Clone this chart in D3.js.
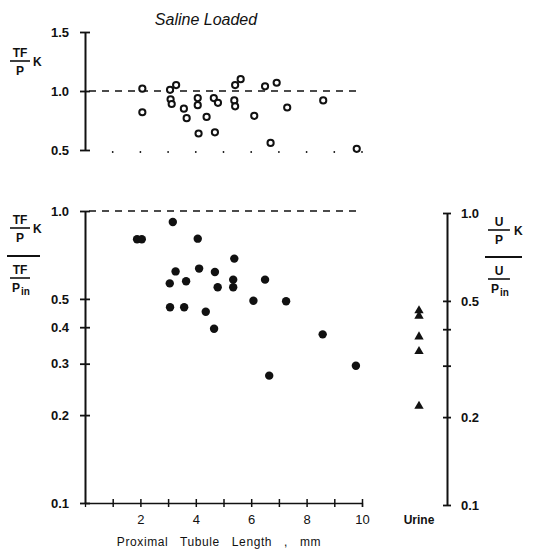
<!DOCTYPE html>
<html>
<head>
<meta charset="utf-8">
<script src="https://cdn.jsdelivr.net/npm/d3@7"></script>
<style>
  body { margin: 0; background: #fff; }
  text { font-family: "Liberation Sans", Arial, sans-serif; fill: #111; }
  .tick text { font-size: 13px; font-weight: bold; }
</style>
</head>
<body>
<div id="chart"></div>
<script>
// Saline loaded: TF/P K (top) and (TF/P K)/(TF/P in) (bottom) vs proximal tubule length

var topLen = [2.07, 2.07, 3.07, 3.09, 3.13, 3.29, 3.57, 3.67, 4.07, 4.07, 4.10, 4.39, 4.65,
              4.80, 4.69, 5.42, 5.62, 5.39, 5.42, 6.11, 6.50, 6.92, 6.70, 7.30, 8.60, 9.81];
var topRatio = [1.02, 0.82, 1.01, 0.93, 0.89, 1.05, 0.85, 0.77, 0.94, 0.88, 0.64, 0.78, 0.94,
                0.90, 0.65, 1.05, 1.10, 0.92, 0.87, 0.79, 1.04, 1.07, 0.56, 0.86, 0.92, 0.51];

var lowLen = [1.88, 2.05, 3.17, 4.07, 5.39, 3.27, 4.12, 4.69, 3.06, 3.65, 4.79,
              5.35, 5.35, 6.50, 6.08, 7.26, 3.07, 3.58, 4.36, 4.66, 8.58, 6.65, 9.78];
var lowRatio = [0.80, 0.80, 0.917, 0.804, 0.687, 0.621, 0.635, 0.618, 0.565, 0.575, 0.548,
                0.582, 0.548, 0.582, 0.493, 0.491, 0.468, 0.468, 0.452, 0.395, 0.378, 0.273, 0.295];

var urineRatio = [0.463, 0.444, 0.377, 0.336, 0.218];

var xTicks = [1, 2, 3, 4, 5, 6, 7, 8, 9, 10];
var topTicks = [0.5, 1.0, 1.5];
var lowTicks = [0.1, 0.2, 0.3, 0.4, 0.5, 1.0];
var rightTicks = [0.1, 0.2, 0.3, 0.4, 0.5, 1.0];
var rightLabels = [0.1, 0.2, 0.5, 1.0];

var W = 549, H = 549;
var svg = d3.select("#chart").append("svg")
    .attr("width", W).attr("height", H);

// scales
var x = d3.scaleLinear().domain([0, 10]).range([85, 362]);
var xCat = d3.scaleOrdinal().domain(["Urine"]).range([419]);
var yTop = d3.scaleLinear().domain([0.5, 1.5]).range([150, 32]);
var yLow = d3.scaleLog().domain([0.1, 1]).range([503, 211]);
var yRight = d3.scaleLog().domain([0.1, 1]).range([505, 213]);

var fmt = d3.format(".1f");

function crossTicks(g, half) {
  g.selectAll(".tick line").attr("x1", -half).attr("x2", half)
    .attr("stroke", "#111").attr("stroke-width", 1.8);
  g.select(".domain").attr("stroke", "#111").attr("stroke-width", 2);
}

// title
svg.append("text").attr("x", 206).attr("y", 25)
  .attr("text-anchor", "middle")
  .style("font-size", "16px").style("font-style", "italic")
  .text("Saline   Loaded");

// ---------- top panel ----------
var gTop = svg.append("g").attr("transform", "translate(85,0)")
  .call(d3.axisLeft(yTop).tickValues(topTicks).tickFormat(fmt).tickSizeOuter(0).tickPadding(10));
crossTicks(gTop, 5);

svg.append("line")
  .attr("x1", x(0) + 4).attr("x2", x(10) - 2)
  .attr("y1", yTop(1)).attr("y2", yTop(1))
  .attr("stroke", "#111").attr("stroke-width", 1.5)
  .attr("stroke-dasharray", "7,6");

// dotted baseline at 0.5
svg.selectAll("circle.tdot").data(xTicks).enter().append("circle")
  .attr("class", "tdot")
  .attr("cx", d => x(d)).attr("cy", yTop(0.5) + 2)
  .attr("r", 0.9).attr("fill", "#111");

svg.selectAll("circle.open").data(topLen).enter().append("circle")
  .attr("class", "open")
  .attr("cx", d => x(d))
  .attr("cy", (d, i) => yTop(topRatio[i]))
  .attr("r", 3.1)
  .attr("fill", "#fff").attr("stroke", "#111").attr("stroke-width", 2);

// ---------- lower panel ----------
var gLow = svg.append("g").attr("transform", "translate(85,0)")
  .call(d3.axisLeft(yLow).tickValues(lowTicks).tickFormat(fmt).tickSizeOuter(0).tickPadding(10));
crossTicks(gLow, 5);

svg.append("line")
  .attr("x1", x(0) + 4).attr("x2", x(10) - 2)
  .attr("y1", yLow(1)).attr("y2", yLow(1))
  .attr("stroke", "#111").attr("stroke-width", 1.5)
  .attr("stroke-dasharray", "7,6");

var gX = svg.append("g").attr("transform", "translate(0,503)")
  .call(d3.axisBottom(x).tickValues(xTicks)
    .tickFormat(d => d % 2 === 0 ? d : "").tickSizeOuter(0).tickSize(4).tickPadding(8));
gX.selectAll(".tick line").attr("y1", -4).attr("y2", 4)
  .attr("stroke", "#111").attr("stroke-width", 1.5);
gX.select(".domain").attr("stroke", "#111").attr("stroke-width", 1.3);
gX.selectAll(".tick text").style("font-weight", "normal").style("font-size", "13px");

svg.append("text").attr("x", xCat("Urine")).attr("y", 524)
  .attr("text-anchor", "middle").style("font-size", "12px").style("font-weight", "bold")
  .text("Urine");

svg.append("text").attr("x", 219).attr("y", 546)
  .attr("text-anchor", "middle").style("font-size", "12px")
  .style("letter-spacing", "0.6px").style("word-spacing", "8px")
  .text("Proximal Tubule Length , mm");

svg.selectAll("circle.fill").data(lowLen).enter().append("circle")
  .attr("class", "fill")
  .attr("cx", d => x(d))
  .attr("cy", (d, i) => yLow(lowRatio[i]))
  .attr("r", 4.2).attr("fill", "#111");

// right axis (urine)
var gRight = svg.append("g").attr("transform", "translate(447,0)")
  .call(d3.axisRight(yRight).tickValues(rightTicks)
    .tickFormat(d => rightLabels.indexOf(d) >= 0 ? fmt(d) : "").tickSizeOuter(0).tickPadding(8));
crossTicks(gRight, 4);

var tri = d3.symbol().type(d3.symbolTriangle).size(38);
svg.selectAll("path.tri").data(urineRatio).enter().append("path")
  .attr("class", "tri")
  .attr("transform", d => "translate(" + xCat("Urine") + "," + yRight(d) + ")")
  .attr("d", tri).attr("fill", "#111");

// ---------- fraction labels ----------
function frac(g, cx, y, num, den, sub, w) {
  g.append("text").attr("x", cx).attr("y", y - 4).attr("text-anchor", "middle")
    .style("font-size", "12px").style("font-weight", "bold").text(num);
  g.append("line").attr("x1", cx - w / 2).attr("x2", cx + w / 2)
    .attr("y1", y).attr("y2", y).attr("stroke", "#111").attr("stroke-width", 1.6);
  g.append("text").attr("x", cx - (sub ? 4 : 0)).attr("y", y + 14)
    .attr("text-anchor", "middle").style("font-size", "12px").style("font-weight", "bold").text(den);
  if (sub) {
    g.append("text").attr("x", cx + 1).attr("y", y + 17)
      .style("font-size", "10px").style("font-weight", "bold").text(sub);
  }
}
function kLabel(g, x0, y) {
  g.append("text").attr("x", x0).attr("y", y).style("font-size", "12px")
    .style("font-weight", "bold").text("K");
}

var lab = svg.append("g");
// top
frac(lab, 20, 61, "TF", "P", null, 20);
kLabel(lab, 33, 66);
// lower left
frac(lab, 20, 228, "TF", "P", null, 20);
kLabel(lab, 33, 233);
lab.append("line").attr("x1", 7).attr("x2", 40).attr("y1", 256).attr("y2", 256)
  .attr("stroke", "#111").attr("stroke-width", 1.8);
frac(lab, 20, 278, "TF", "P", "in", 20);
// right
frac(lab, 499, 230, "U", "P", null, 22);
kLabel(lab, 514, 235);
lab.append("line").attr("x1", 485).attr("x2", 522).attr("y1", 257).attr("y2", 257)
  .attr("stroke", "#111").attr("stroke-width", 1.8);
frac(lab, 499, 279, "U", "P", "in", 22);
</script>
</body>
</html>
